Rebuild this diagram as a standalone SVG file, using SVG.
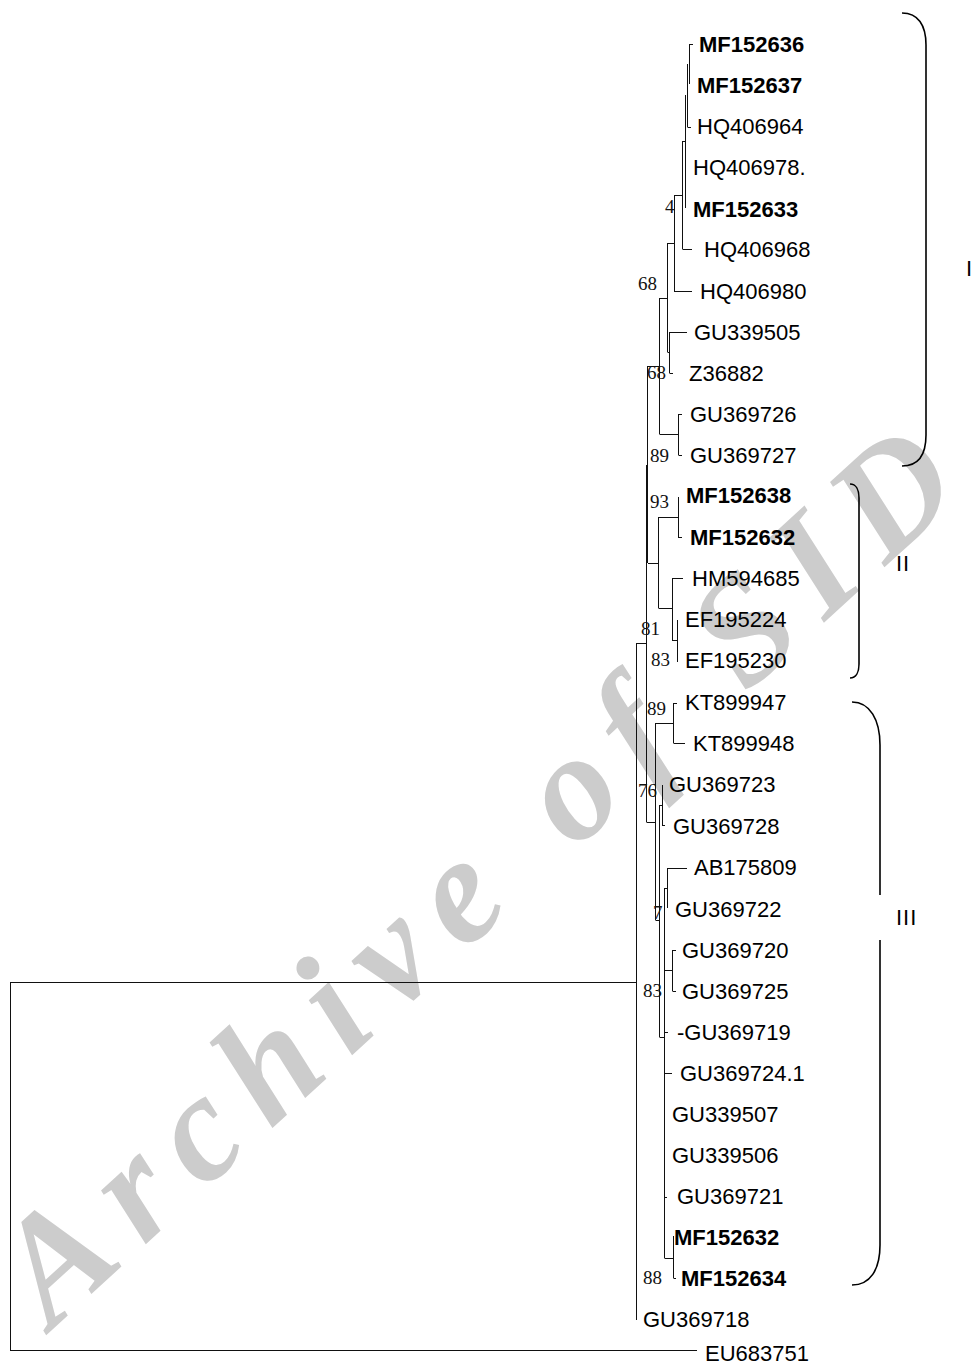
<svg xmlns="http://www.w3.org/2000/svg" width="971" height="1369" viewBox="0 0 971 1369">
<style>
.lf{font-family:"Liberation Sans",Arial,sans-serif;font-size:22px;fill:#000}
.b{font-weight:bold}
.bs{font-family:"Liberation Serif","Times New Roman",serif;font-size:19px;fill:#111}
.ln{fill:none;stroke:#111;stroke-width:1}
.br{fill:none;stroke:#000;stroke-width:1.6}
.wm{font-family:"Liberation Serif","Times New Roman",serif;font-weight:bold;font-style:italic;font-size:152px;fill:#cccccc}
</style>
<rect width="971" height="1369" fill="#fff"/>
<text class="wm" transform="translate(52,1330) rotate(-42.5)" textLength="1240" lengthAdjust="spacing">Archive of SID</text>
<g id="connectors">
<path class="ln" d="M689.5,44.5 H693 M689.5,44 V84 M687.5,64 V127 M687.5,127.5 H691 M685.5,95 V208 M682,141.5 H685.5 M682.5,141 V249 M682.5,249.5 H692 M675,195.5 H682.5 M674.5,195 V292 M674.5,291.5 H692 M667,243.5 H674.5 M667.5,243 V352 M667.5,352.5 H669.5 M669.5,332 V373 M669.5,332.5 H687 M669.5,373.5 H673 M659,298.5 H667.5 M659.5,298 V434 M659.5,434.5 H678 M678.5,414 V455 M678.5,414.5 H682 M678.5,455.5 H682 M647,366.5 H659.5 M647.5,366 V563 M646.5,465 V822"/>
<path class="ln" d="M648,563.5 H658.5 M658.5,517 V608 M658.5,517.5 H678 M678.5,497 V538 M678.5,537.5 H682 M658.5,608.5 H672 M672.5,578 V641 M672.5,578.5 H683 M672.5,640.5 H677 M677.5,620 V662"/>
<path class="ln" d="M636,643.5 H646.5 M636.5,643 V1320 M10,982.5 H636.5 M10.5,982 V1351 M10.5,1350.5 H697"/>
<path class="ln" d="M646.5,822.5 H655.5 M655.5,723 V920 M655.5,723.5 H673 M673.5,703 V743 M673.5,703.5 H677 M673.5,743.5 H685 M655.5,920.5 H659.5 M659.5,805 V1037 M659.5,805.5 H662.5 M662.5,785 V826 M662.5,825.5 H665 M659.5,1037.5 H664.5 M664.5,888 V1258 M664.5,888.5 H667.5 M667.5,868 V908 M667.5,868.5 H687 M664.5,970.5 H672.5 M672.5,950 V991 M672.5,950.5 H676 M672.5,991.5 H676 M664.5,1032.5 H668 M664.5,1073.5 H672 M664.5,1197.5 H667 M664.5,1258.5 H673.5 M673.5,1236 V1278 M673.5,1278.5 H676"/>
</g>
<g id="support">
<text class="bs" x="665" y="213">4</text>
<text class="bs" x="638" y="290">68</text>
<text class="bs" x="647" y="379">68</text>
<text class="bs" x="650" y="462">89</text>
<text class="bs" x="650" y="508">93</text>
<text class="bs" x="641" y="635">81</text>
<text class="bs" x="651" y="666">83</text>
<text class="bs" x="647" y="715">89</text>
<text class="bs" x="638" y="797">76</text>
<text class="bs" x="653" y="919">7</text>
<text class="bs" x="643" y="997">83</text>
<text class="bs" x="643" y="1284">88</text>
</g>
<g id="n1"><text class="lf b" x="699" y="52">MF152636</text></g>
<g id="n2"><text class="lf b" x="697" y="93">MF152637</text></g>
<g id="n3"><text class="lf" x="697" y="134">HQ406964</text></g>
<g id="n4"><text class="lf" x="693" y="175">HQ406978.</text></g>
<g id="n5"><text class="lf b" x="693" y="217">MF152633</text></g>
<g id="n6"><text class="lf" x="704" y="257">HQ406968</text></g>
<g id="n7"><text class="lf" x="700" y="299">HQ406980</text></g>
<g id="n8"><text class="lf" x="694" y="340">GU339505</text></g>
<g id="n9"><text class="lf" x="689" y="381">Z36882</text></g>
<g id="n10"><text class="lf" x="690" y="422">GU369726</text></g>
<g id="n11"><text class="lf" x="690" y="463">GU369727</text></g>
<g id="n12"><text class="lf b" x="686" y="503">MF152638</text></g>
<g id="n13"><text class="lf b" x="690" y="545">MF152632</text></g>
<g id="n14"><text class="lf" x="692" y="586">HM594685</text></g>
<g id="n15"><text class="lf" x="685" y="627">EF195224</text></g>
<g id="n16"><text class="lf" x="685" y="668">EF195230</text></g>
<g id="n17"><text class="lf" x="685" y="710">KT899947</text></g>
<g id="n18"><text class="lf" x="693" y="751">KT899948</text></g>
<g id="n19"><text class="lf" x="669" y="792">GU369723</text></g>
<g id="n20"><text class="lf" x="673" y="834">GU369728</text></g>
<g id="n21"><text class="lf" x="694" y="875">AB175809</text></g>
<g id="n22"><text class="lf" x="675" y="917">GU369722</text></g>
<g id="n23"><text class="lf" x="682" y="958">GU369720</text></g>
<g id="n24"><text class="lf" x="682" y="999">GU369725</text></g>
<g id="n25"><text class="lf" x="677" y="1040">-GU369719</text></g>
<g id="n26"><text class="lf" x="680" y="1081">GU369724.1</text></g>
<g id="n27"><text class="lf" x="672" y="1122">GU339507</text></g>
<g id="n28"><text class="lf" x="672" y="1163">GU339506</text></g>
<g id="n29"><text class="lf" x="677" y="1204">GU369721</text></g>
<g id="n30"><text class="lf b" x="674" y="1245">MF152632</text></g>
<g id="n31"><text class="lf b" x="681" y="1286">MF152634</text></g>
<g id="n32"><text class="lf" x="643" y="1327">GU369718</text></g>
<g id="n33"><text class="lf" x="705" y="1361">EU683751</text></g>
<g id="cladeI"><path class="br" d="M902,13 C918,13 926,25 926,45 V435 C926,455 918,466 902,466"/><text class="lf" x="966" y="276">I</text></g>
<g id="cladeII"><path class="br" d="M850,484 C856,484 859,490 859,498 V664 C859,672 856,678 850,678"/><text class="lf" x="896" y="571" letter-spacing="1">II</text></g>
<g id="cladeIII"><path class="br" d="M852,702 C870,702 880,720 880,745 V895 M880,940 V1245 C880,1270 870,1285 852,1285"/><text class="lf" x="896" y="925" letter-spacing="1">III</text></g>
</svg>
